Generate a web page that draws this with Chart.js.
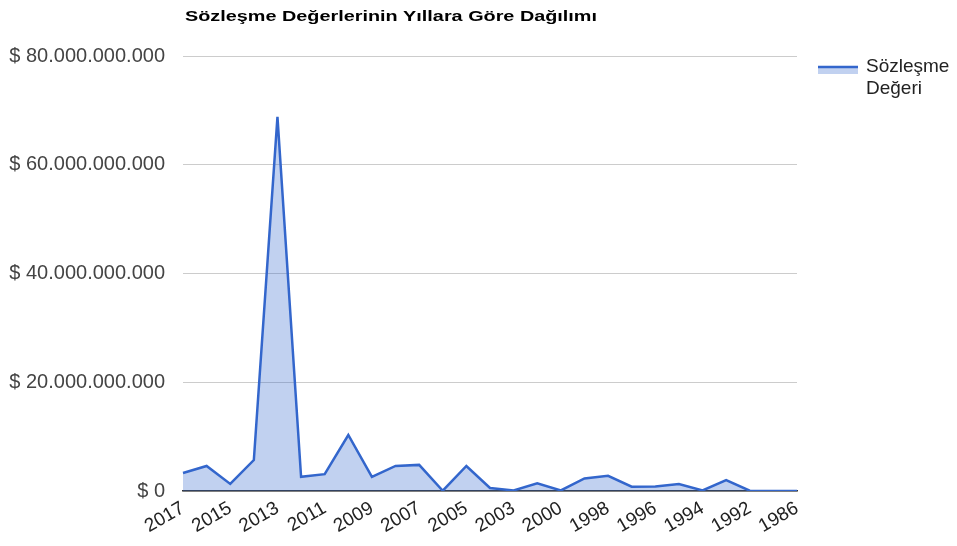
<!DOCTYPE html>
<html>
<head>
<meta charset="utf-8">
<script src="https://cdn.jsdelivr.net/npm/chart.js@4.4.0/dist/chart.umd.min.js"></script>
<style>
  html, body { margin: 0; padding: 0; background: #fff; }
  #wrap { width: 957px; height: 546px; position: relative; }
</style>
</head>
<body>
<div id="wrap"><canvas id="chart"></canvas></div>
<script>
// Years on the x axis (newest first, as in the source chart)
const years = ["2017", "2016", "2015", "2014", "2013", "2012", "2011", "2010", "2009",
    "2008", "2007", "2006", "2005", "2004", "2003", "2001", "2000", "1999", "1998",
    "1997", "1996", "1995", "1994", "1993", "1992", "1989", "1986"];

// Contract values per year (USD)
const contract_values = [3.3e9, 4.6e9, 1.3e9, 5.7e9, 68.8e9, 2.6e9, 3.1e9, 10.3e9, 2.6e9,
    4.6e9, 4.8e9, 0.05e9, 4.6e9, 0.55e9, 0.1e9, 1.4e9, 0.1e9, 2.3e9, 2.8e9,
    0.8e9, 0.85e9, 1.3e9, 0.1e9, 2.0e9, 0.05e9, 0, 0];

const chart_title = "Sözleşme Değerlerinin Yıllara Göre Dağılımı";
const series_name = ["Sözleşme", "Değeri"];

const line_colour = "#3366cc";
const fill_colour = "rgba(51, 102, 204, 0.3)";
const font_family = "'Liberation Sans', Arial, sans-serif";

// Format numbers like "$ 80.000.000.000"
function format_money(value) {
    return "$ " + Math.round(value).toString().replace(/\B(?=(\d{3})+(?!\d))/g, ".");
}

// Draw the title and the legend by hand so they sit where the original has them
const decorations = {
    id: "decorations",
    afterDraw(chart) {
        const ctx = chart.ctx;
        const area = chart.chartArea;
        ctx.save();
        ctx.fillStyle = "#000";
        ctx.font = "bold 15px " + font_family;
        ctx.textBaseline = "middle";
        // the original title is drawn wide, so stretch it to the same width
        const title_width = ctx.measureText(chart_title).width;
        const stretch = 412 / title_width;
        ctx.save();
        ctx.translate(area.left + 2, 17);
        ctx.scale(stretch, 1);
        ctx.fillText(chart_title, 0, 0);
        ctx.restore();

        // legend sample: filled box with a line on top
        const lx = area.right + 21;
        const ly = 67;
        ctx.fillStyle = fill_colour;
        ctx.fillRect(lx, ly, 40, 7);
        ctx.strokeStyle = line_colour;
        ctx.lineWidth = 2.5;
        ctx.beginPath();
        ctx.moveTo(lx, ly);
        ctx.lineTo(lx + 40, ly);
        ctx.stroke();

        ctx.fillStyle = "#222";
        ctx.font = "19px " + font_family;
        ctx.fillText(series_name[0], lx + 48, ly);
        ctx.fillText(series_name[1], lx + 48, ly + 22);
        ctx.restore();
    }
};

const ctx = document.getElementById("chart").getContext("2d");

const data = {
    labels: years,
    datasets: [{
        label: series_name.join(" "),
        data: contract_values,
        borderColor: line_colour,
        backgroundColor: fill_colour,
        borderWidth: 2.5,
        fill: "origin",
        tension: 0,
        pointRadius: 0
    }]
};

const config = {
    type: "line",
    data: data,
    options: {
        responsive: true,
        maintainAspectRatio: false,
        animation: false,
        layout: {
            padding: { top: 56, right: 160, left: 0, bottom: 0 }
        },
        scales: {
            x: {
                offset: false,
                grid: { display: false, drawTicks: false },
                border: { color: "#333", width: 1.5 },
                ticks: {
                    autoSkip: false,
                    minRotation: 30,
                    maxRotation: 30,
                    color: "#222",
                    padding: 6,
                    font: { family: font_family, size: 19 },
                    callback: function(value, index) {
                        return index % 2 === 0 ? this.getLabelForValue(value) : "";
                    }
                },
                afterFit: (scale) => { scale.height = 55; }
            },
            y: {
                min: 0,
                max: 80e9,
                grid: {
                    color: "#cccccc",
                    drawTicks: false
                },
                border: { display: false },
                ticks: {
                    stepSize: 20e9,
                    color: "#444",
                    padding: 18,
                    font: { family: font_family, size: 20 },
                    callback: (value) => format_money(value)
                },
                afterFit: (scale) => { scale.width = 183; }
            }
        },
        plugins: {
            legend: { display: false },
            tooltip: { enabled: false }
        }
    },
    plugins: [decorations]
};

new Chart(ctx, config);
</script>
</body>
</html>
